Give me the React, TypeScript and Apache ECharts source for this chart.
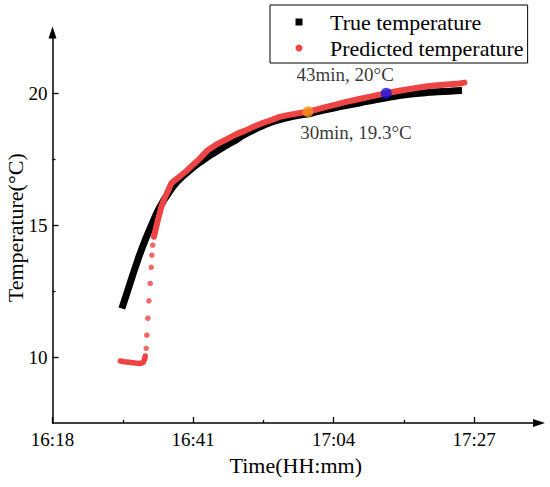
import React, { useEffect, useRef } from "react";
import * as echarts from "echarts";

// x values: minutes after 16:18
const START_MIN_OF_DAY = 978;
const xMajorTicks = [0, 23, 46, 69];
const xMinorTicks = [11.5, 34.5, 57.5];
const yMajorTicks = [10, 15, 20];
const yMinorTicks = [12.5, 17.5];

const trueTimes = [11.35, 12.0, 12.7, 13.4, 14.1, 14.8, 15.5, 16.2, 16.9, 17.6, 18.3, 19.0, 19.7, 20.5, 21.3, 22.2, 23.1, 24.0, 25.0, 26.0, 27.0, 28.0, 29.0, 30.0, 31.0, 32.0, 33.0, 34.0, 35.0, 36.0, 37.0, 38.0, 39.0, 40.0, 41.0, 42.0, 43.0, 44.0, 45.0, 46.0, 47.0, 48.0, 49.0, 50.0, 51.0, 52.0, 53.0, 54.0, 55.0, 56.0, 57.0, 58.0, 59.0, 60.0, 61.0, 62.0, 63.0, 64.0, 65.0, 66.0, 67.0];
const trueTemps = [11.84, 12.3, 12.8, 13.3, 13.78, 14.22, 14.62, 15.0, 15.38, 15.7, 15.98, 16.22, 16.45, 16.67, 16.85, 17.03, 17.2, 17.36, 17.52, 17.68, 17.82, 17.96, 18.1, 18.22, 18.38, 18.5, 18.62, 18.73, 18.83, 18.92, 18.99, 19.05, 19.1, 19.15, 19.19, 19.22, 19.28, 19.34, 19.39, 19.44, 19.49, 19.53, 19.58, 19.62, 19.67, 19.71, 19.76, 19.8, 19.84, 19.88, 19.92, 19.95, 19.98, 20.0, 20.02, 20.04, 20.05, 20.06, 20.07, 20.09, 20.1];

const predFlatTimes = [11.1, 11.8, 12.5, 13.2, 13.9, 14.5, 14.85, 15.05, 15.17];
const predFlatTemps = [9.85, 9.82, 9.8, 9.78, 9.76, 9.76, 9.8, 9.9, 10.04];

const predDotTimes = [15.33, 15.44, 15.6, 15.77, 15.99, 16.15, 16.26, 16.4];
const predDotTemps = [10.33, 10.83, 11.47, 12.13, 12.79, 13.4, 13.86, 14.24];

const predCurveTimes = [16.6, 16.85, 17.2, 17.8, 18.4, 19.0, 19.43, 20.0, 21.0, 22.0, 23.0, 24.0, 25.4, 27.0, 28.7, 30.0, 31.7, 33.0, 34.5, 36.0, 37.16, 38.5, 40.0, 41.8, 43.0, 44.5, 46.0, 48.07, 50.0, 52.0, 54.6, 56.5, 59.0, 61.0, 63.0, 65.0, 66.6, 67.4];
const predCurveTemps = [14.56, 14.81, 15.15, 15.69, 16.05, 16.35, 16.58, 16.7, 16.88, 17.07, 17.29, 17.5, 17.84, 18.08, 18.28, 18.44, 18.6, 18.74, 18.88, 19.0, 19.1, 19.17, 19.23, 19.3, 19.37, 19.46, 19.55, 19.67, 19.77, 19.87, 20.0, 20.08, 20.18, 20.25, 20.3, 20.34, 20.37, 20.4];

const annotTimes = [41.8, 54.6];
const annotTemps = [19.3, 20.0];
const annotLabels = ["30min, 19.3°C", "43min, 20°C"];
const annotColors = ["#F7941D", "#1414E6"];
const annotOffsets = [[48, 21], [-41, -19]];

const FONT = "'Liberation Serif', 'Times New Roman', serif";
const RED = "#EE4444";

const zip = (a: number[], b: number[]) => a.map((v, i) => [v, b[i]]);

const fmtTime = (v: number) => {
  const t = Math.round(START_MIN_OF_DAY + v);
  const h = Math.floor(t / 60);
  const m = t % 60;
  return `${h}:${m < 10 ? "0" + m : m}`;
};

export default function App() {
  const ref = useRef<HTMLDivElement>(null);
  useEffect(() => {
    if (!ref.current) return;
    const chart = echarts.init(ref.current, undefined, { renderer: "svg" });
    const axisLineStyle = { color: "#000", width: 1.5 };
    const labelStyle = { fontSize: 19, fontFamily: FONT, color: "#000" };
    const nameStyle = { fontSize: 22, fontFamily: FONT, color: "#000" };
    chart.setOption({
      animation: false,
      backgroundColor: "#fff",
      textStyle: { fontFamily: FONT },
      grid: { left: 52.5, right: 11, top: 32.5, bottom: 64, outerBoundsMode: "none", containLabel: false },
      legend: {
        data: [
          { name: "True temperature", icon: "rect" },
          { name: "Predicted temperature", icon: "circle" },
        ],
        orient: "vertical",
        left: 270,
        top: 5,
        padding: [6, 4, 4, 25.5],
        itemWidth: 7,
        itemHeight: 7,
        itemGap: 4,
        borderColor: "#000",
        borderWidth: 1,
        selectedMode: false,
        textStyle: {
          fontSize: 22,
          fontFamily: FONT,
          color: "#000",
          lineHeight: 22,
          padding: [0, 0, 0, 22.5],
        },
      },
      xAxis: [
        {
          type: "value",
          min: 0,
          max: 79.6,
          position: "bottom",
          name: "Time(HH:mm)",
          nameLocation: "middle",
          nameGap: 31,
          nameMoveOverlap: false,
          nameTextStyle: nameStyle,
          axisLine: {
            show: true,
            onZero: false,
            lineStyle: axisLineStyle,
            symbol: ["none", "triangle"],
            symbolSize: [8, 12],
          },
          axisTick: {
            show: true,
            inside: true,
            length: 6,
            customValues: xMajorTicks,
            lineStyle: { color: "#000", width: 1.3 },
          },
          axisLabel: {
            customValues: xMajorTicks,
            formatter: fmtTime,
            margin: 7,
            ...labelStyle,
          },
          splitLine: { show: false },
        },
        {
          type: "value",
          min: 0,
          max: 79.6,
          position: "bottom",
          axisLine: { show: false, onZero: false },
          axisTick: {
            show: true,
            inside: true,
            length: 3,
            customValues: xMinorTicks,
            lineStyle: { color: "#000", width: 1.3 },
          },
          axisLabel: { show: false },
          splitLine: { show: false },
        },
      ],
      yAxis: [
        {
          type: "value",
          min: 7.5,
          max: 22.3,
          position: "left",
          name: "Temperature(°C)",
          nameLocation: "middle",
          nameGap: 26,
          nameMoveOverlap: false,
          nameRotate: 90,
          nameTextStyle: nameStyle,
          axisLine: {
            show: true,
            onZero: false,
            lineStyle: axisLineStyle,
            symbol: ["none", "triangle"],
            symbolSize: [8, 12],
          },
          axisTick: {
            show: true,
            inside: true,
            length: 6,
            customValues: yMajorTicks,
            lineStyle: { color: "#000", width: 1.3 },
          },
          axisLabel: {
            customValues: yMajorTicks,
            margin: 5,
            ...labelStyle,
          },
          splitLine: { show: false },
        },
        {
          type: "value",
          min: 7.5,
          max: 22.3,
          position: "left",
          axisLine: { show: false, onZero: false },
          axisTick: {
            show: true,
            inside: true,
            length: 3,
            customValues: yMinorTicks,
            lineStyle: { color: "#000", width: 1.3 },
          },
          axisLabel: { show: false },
          splitLine: { show: false },
        },
      ],
      series: [
        {
          name: "True temperature",
          type: "line",
          data: zip(trueTimes, trueTemps),
          showSymbol: false,
          symbol: "none",
          lineStyle: { color: "#000", width: 7, join: "round" },
          itemStyle: { color: "#000" },
          silent: true,
          z: 2,
        },
        {
          name: "Predicted temperature",
          type: "line",
          data: zip(predFlatTimes, predFlatTemps),
          showSymbol: false,
          symbol: "none",
          lineStyle: { color: RED, width: 5.5, join: "round", cap: "round" },
          itemStyle: { color: RED },
          silent: true,
          z: 3,
        },
        {
          name: "Predicted temperature",
          type: "scatter",
          data: zip(predDotTimes, predDotTemps),
          symbol: "circle",
          symbolSize: 5.5,
          itemStyle: { color: RED },
          silent: true,
          z: 3,
        },
        {
          name: "Predicted temperature",
          type: "line",
          data: zip(predCurveTimes, predCurveTemps),
          showSymbol: false,
          symbol: "none",
          lineStyle: { color: RED, width: 6, join: "round", cap: "round" },
          itemStyle: { color: RED },
          silent: true,
          z: 3,
        },
        {
          name: "annotations",
          type: "scatter",
          symbolSize: 11,
          silent: true,
          z: 5,
          data: annotTimes.map((t, i) => ({
            value: [t, annotTemps[i]],
            itemStyle: { color: annotColors[i] },
            label: {
              show: true,
              position: "inside",
              offset: annotOffsets[i],
              formatter: annotLabels[i],
              fontSize: 19,
              fontFamily: FONT,
              color: "#000",
            },
          })),
        },
      ],
    });
    return () => chart.dispose();
  }, []);
  return (
    <div
      ref={ref}
      style={{ position: "fixed", left: 0, top: 0, width: 550, height: 487, background: "#fff" }}
    />
  );
}
